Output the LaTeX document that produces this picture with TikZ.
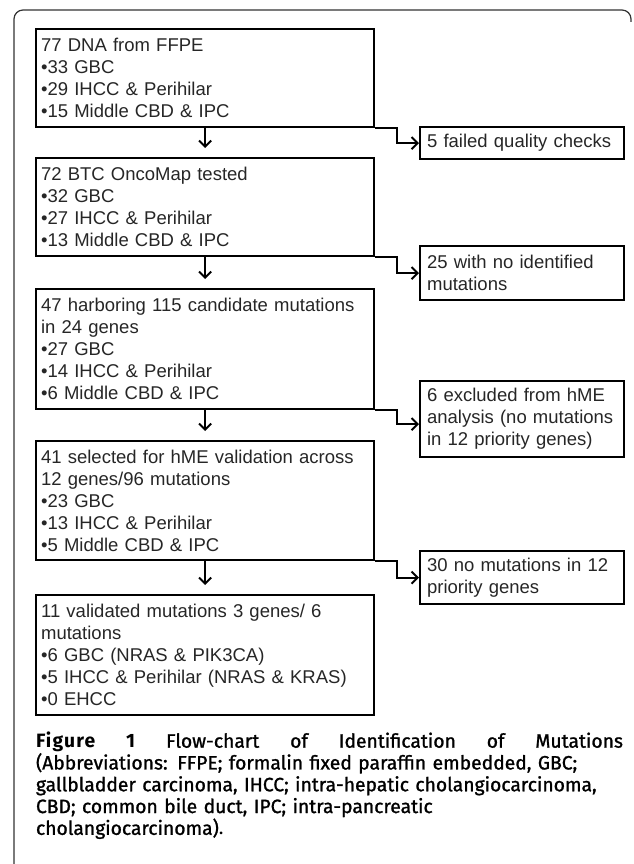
\documentclass[tikz,border=0pt]{standalone}
\usepackage{fontspec}
\setmainfont{Liberation Sans}
\newfontfamily\capfont{Fira Sans}
\newfontfamily\capsemi{Fira Sans}[FakeBold=1.2]
\usetikzlibrary{arrows.meta}

\tikzstyle{block} = [rectangle, draw, line width=2.2pt, text width=328pt, inner xsep=5pt, inner ysep=2pt, align=left, anchor=north west, text=black!85, font=\fontsize{18.5}{22}\selectfont]

\begin{document}
\begin{tikzpicture}[x=1pt, y=-1pt, >={Straight Barb[length=6pt,width=12pt]}, line width=2pt]
  \tikzstyle{excl}=[block, text width=190pt, inner xsep=7pt]
  \tikzstyle{down}=[->, shorten >=9pt]
  \useasboundingbox (0,0) rectangle (633,864);
  % frame
  \draw[line width=1.2pt, black!80, rounded corners=9pt] (14,864) -- (14,10) -- (631,10) -- (631,22);
  % main column
  \node[block, minimum height=98pt] (stage0) at (35,28) {77 DNA from FFPE\\•33 GBC\\•29 IHCC \& Perihilar\\•15 Middle CBD \& IPC};
  \node[block, minimum height=98pt] (stage1) at (35,157) {72 BTC OncoMap tested\\•32 GBC\\•27 IHCC \& Perihilar\\•13 Middle CBD \& IPC};
  \node[block, minimum height=120pt] (stage2) at (35,288) {47 harboring 115 candidate mutations\\in 24 genes\\•27 GBC\\•14 IHCC \& Perihilar\\•6 Middle CBD \& IPC};
  \node[block, minimum height=119pt] (stage3) at (35,440) {41 selected for hME validation across\\12 genes/96 mutations\\•23 GBC\\•13 IHCC \& Perihilar\\•5 Middle CBD \& IPC};
  \node[block, minimum height=120pt] (stage4) at (35,594) {11 validated mutations 3 genes/ 6\\mutations\\•6 GBC (NRAS \& PIK3CA)\\•5 IHCC \& Perihilar (NRAS \& KRAS)\\•0 EHCC};
  % excluded
  \node[excl, minimum height=32pt] (drop0) at (419,126) {5 failed quality checks};
  \node[excl, minimum height=54pt] (drop1) at (419,245) {25 with no identified\\mutations};
  \node[excl, minimum height=76pt] (drop2) at (419,380) {6 excluded from hME\\analysis (no mutations\\in 12 priority genes)};
  \node[excl, minimum height=53pt] (drop3) at (419,550) {30 no mutations in 12\\priority genes};
\draw[down] (stage0.south) -- (stage1.north);
\draw[down] (stage1.south) -- (stage2.north);
\draw[down] (stage2.south) -- (stage3.north);
\draw[down] (stage3.south) -- (stage4.north);
\draw[->] (stage0.south east) -- ++(22,0) |- (drop0);
\draw[->] (stage1.south east) -- ++(22,0) |- (drop1);
\draw[->] (stage2.south east) -- ++(22,0) |- ([yshift=-5pt]drop2.west);
\draw[->] (stage3.south east) -- ++(22,0) |- (drop3);
  % caption
  \node[anchor=north west, inner sep=0pt, text width=640pt, align=left, font=\capsemi\fontsize{19.3}{21.8}\selectfont] (caption) at (35,731)
    {\makebox[587pt][l]{{\capfont\bfseries\addfontfeature{LetterSpace=6}Figure\hfill 1}\hfill Flow-chart\hfill of\hfill Identification\hfill of\hfill Mutations}\\
     (Abbreviations: FFPE; formalin fixed paraffin embedded, GBC;\\
     gallbladder carcinoma, IHCC; intra-hepatic cholangiocarcinoma,\\
     CBD; common bile duct, IPC; intra-pancreatic\\
     cholangiocarcinoma){\capfont .}};
\end{tikzpicture}
\end{document}
